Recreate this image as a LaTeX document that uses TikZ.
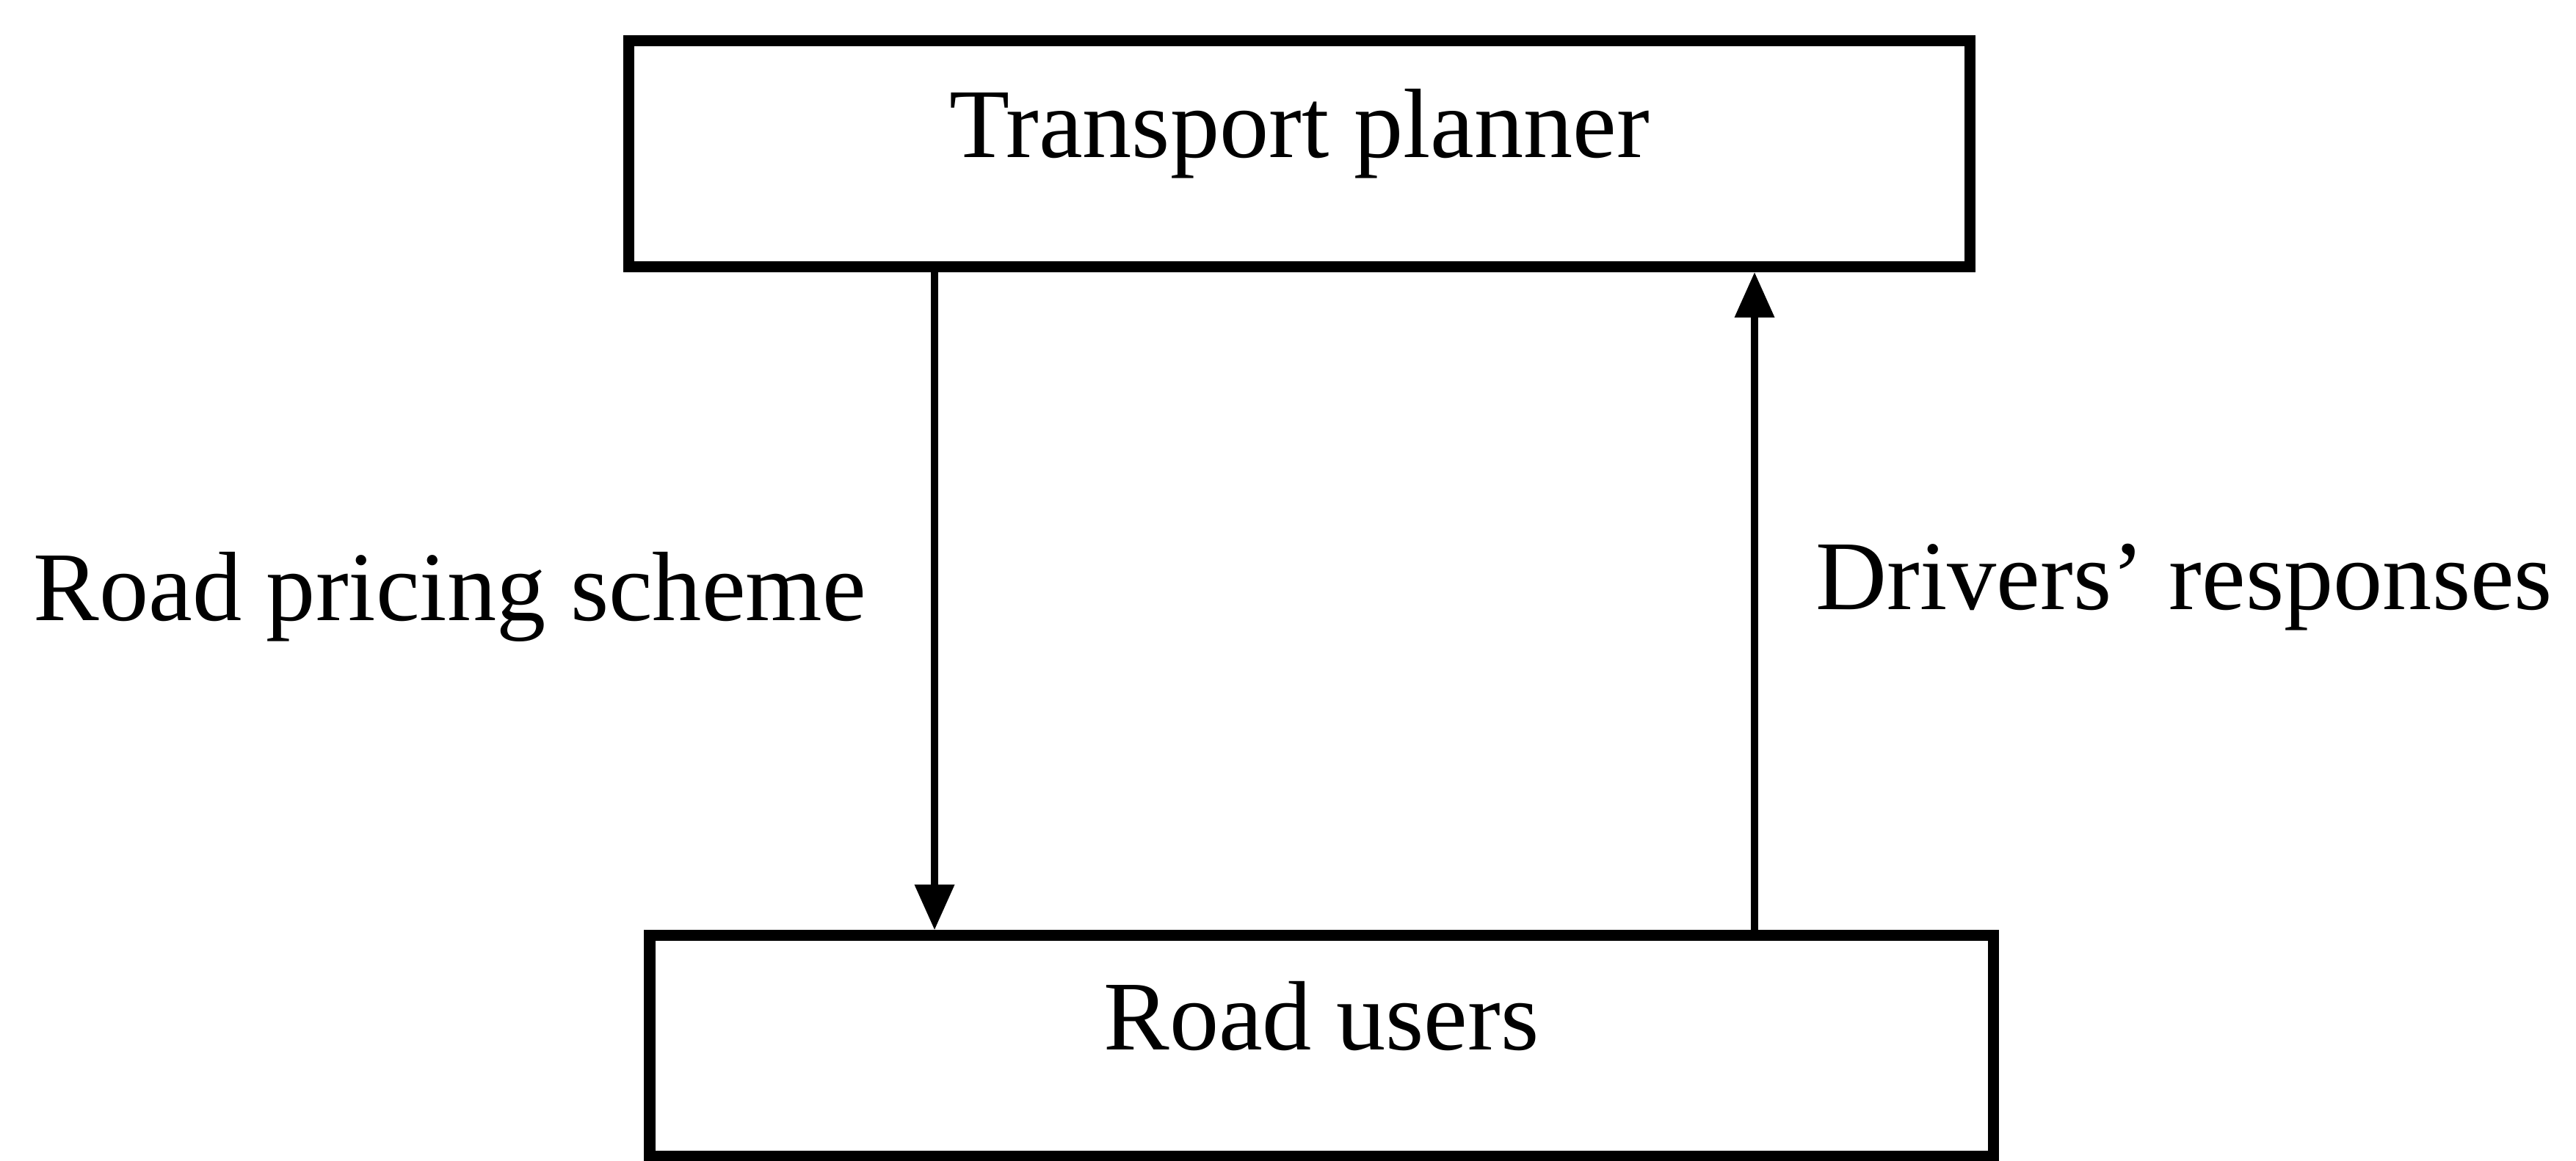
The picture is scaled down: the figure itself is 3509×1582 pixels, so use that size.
\documentclass[tikz,border=0pt]{standalone}
\usepackage{fontspec}
\setmainfont{Liberation Serif}
\usetikzlibrary{arrows.meta}
\begin{document}
\begin{tikzpicture}[x=0.01cm,y=-0.01cm,
  labelfont/.style={font=\fontsize{38.2}{46}\selectfont},
  box/.style={draw, rectangle, line width=4.3pt, inner sep=0pt, labelfont,
    text height=0.62em, text depth=0.32em},
  flow/.style={line width=2.9pt, -{Triangle[length=0.62cm,width=0.52cm]}},
  caption/.style={labelfont, inner sep=0pt, anchor=base west}]
\useasboundingbox (0,0) rectangle (3509,1582);

% the two actors
\node[box, minimum width=18.26cm, minimum height=3.07cm] (planner) at (1770,209.5) {Transport planner};
\node[box, minimum width=18.29cm, minimum height=3.0cm] (users) at (1800,1425) {Road users};

% x positions of the two vertical connectors
\coordinate (down) at (1273,800);
\coordinate (up) at (2390,800);

\draw[flow] (planner.south -| down) -- (users.north -| down);
\draw[flow] (users.north -| up) -- (planner.south -| up);

% connector labels
\node[caption] (scheme) at (45,845) {Road pricing scheme};
\node[caption] (responses) at (2473,830) {Drivers' responses};
\end{tikzpicture}
\end{document}
